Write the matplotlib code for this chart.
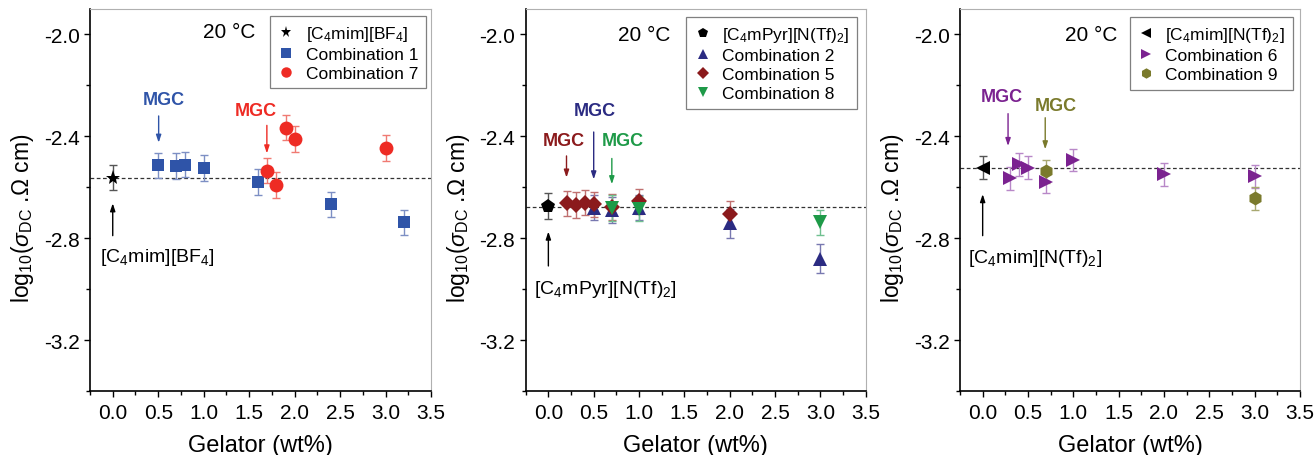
import matplotlib
matplotlib.use("Agg")
import matplotlib.pyplot as plt
from matplotlib.ticker import MultipleLocator

plt.rcParams['font.family'] = ['Liberation Sans', 'DejaVu Sans']
plt.rcParams['mathtext.fontset'] = 'custom'
plt.rcParams['mathtext.rm'] = 'Liberation Sans'
plt.rcParams['mathtext.it'] = 'Liberation Sans:italic'
plt.rcParams['mathtext.bf'] = 'Liberation Sans:bold'
plt.rcParams['axes.unicode_minus'] = False

# ---------------- data ----------------
# Panel 1
p1_il_x = [0.0]
p1_il_y = [-2.562]
p1_il_err = [0.05]
c1_x = [0.5, 0.7, 0.8, 1.0, 1.6, 2.4, 3.2]
c1_y = [-2.514, -2.516, -2.511, -2.524, -2.58, -2.667, -2.738]
c1_err = [0.05, 0.05, 0.05, 0.05, 0.05, 0.05, 0.05]
c7_x = [1.7, 1.8, 1.9, 2.0, 3.0]
c7_y = [-2.535, -2.592, -2.366, -2.41, -2.446]
c7_err = [0.05, 0.05, 0.05, 0.05, 0.05]

# Panel 2
p2_il_x = [0.0]
p2_il_y = [-2.673]
p2_il_err = [0.05]
c2_x = [0.5, 0.7, 1.0, 2.0, 3.0]
c2_y = [-2.68, -2.689, -2.68, -2.742, -2.88]
c2_err = [0.05, 0.05, 0.05, 0.057, 0.057]
c5_x = [0.2, 0.3, 0.4, 0.5, 0.7, 1.0, 2.0]
c5_y = [-2.663, -2.67, -2.66, -2.667, -2.677, -2.655, -2.705]
c5_err = [0.05, 0.05, 0.05, 0.05, 0.05, 0.05, 0.05]
c8_x = [0.7, 1.0, 3.0]
c8_y = [-2.682, -2.684, -2.738]
c8_err = [0.05, 0.05, 0.05]

# Panel 3
p3_il_x = [0.0]
p3_il_y = [-2.523]
p3_il_err = [0.045]
c6_x = [0.3, 0.4, 0.5, 0.7, 1.0, 2.0, 3.0]
c6_y = [-2.565, -2.51, -2.523, -2.579, -2.493, -2.549, -2.556]
c6_err = [0.045, 0.045, 0.045, 0.045, 0.045, 0.045, 0.045]
c9_x = [0.7, 3.0]
c9_y = [-2.537, -2.643]
c9_err = [0.045, 0.045]

il_labels = [r'[C$_4$mim][BF$_4$]', r'[C$_4$mPyr][N(Tf)$_2$]', r'[C$_4$mim][N(Tf)$_2$]']

# ---------------- figure ----------------
fig = plt.figure(figsize=(13.15, 4.56), dpi=100)
W, H = 1315.0, 456.0
ax_lefts = [90, 525.7, 960]
ax_widths = [341, 340, 340]
axes = []
for l, w in zip(ax_lefts, ax_widths):
    axes.append(fig.add_axes([l / W, 1 - 392 / H, w / W, 382 / H]))


def style(ax):
    ax.set_xlim(-0.25, 3.5)
    ax.set_ylim(-3.4, -1.9)
    ax.xaxis.set_major_locator(MultipleLocator(0.5))
    ax.xaxis.set_minor_locator(MultipleLocator(0.25))
    ax.yaxis.set_major_locator(MultipleLocator(0.4))
    ax.yaxis.set_minor_locator(MultipleLocator(0.2))
    ax.tick_params(which='both', direction='out', width=1.0, labelsize=15)
    ax.tick_params(which='major', length=4)
    ax.tick_params(which='minor', length=3)
    ax.tick_params(axis='x', pad=5)
    for s in ['top', 'right']:
        ax.spines[s].set_color('#b0b0b0')
        ax.spines[s].set_linewidth(0.8)
    for s in ['left', 'bottom']:
        ax.spines[s].set_linewidth(1.2)
    ax.set_xlabel('Gelator (wt%)', fontsize=17, labelpad=8)
    ax.set_ylabel(r'log$_{10}$($\sigma_{\mathrm{DC}}$ .Ω cm)', fontsize=16.5, labelpad=6)
    ax.yaxis.set_label_coords(-0.158, 0.455)


def series(ax, x, y, e, marker, color, ecolor, ms, label):
    ax.errorbar(x, y, yerr=e, fmt='none', ecolor=ecolor, elinewidth=1.0,
                capsize=3, capthick=1.0, zorder=2)
    ax.plot(x, y, linestyle='none', marker=marker, color=color, markersize=ms,
            markeredgewidth=0, label=label, zorder=3)


def arrow(ax, x, y0, y1, color, text=None, tx=None, ty=None, bold=False, fs=13):
    ax.annotate('', xy=(x, y1), xytext=(x, y0),
                arrowprops=dict(arrowstyle='-|>,head_length=0.45,head_width=0.15',
                                color=color, lw=1.0, shrinkA=0, shrinkB=0))
    if text is not None:
        ax.text(tx, ty, text, color=color, ha='center', va='center', fontsize=fs,
                fontweight='bold' if bold else 'normal')


def legend(ax, anchor):
    lg = ax.legend(loc='upper right', bbox_to_anchor=anchor, borderaxespad=0,
                   fontsize=12.5, frameon=True, fancybox=False, edgecolor='#606060',
                   handlelength=1.0, handletextpad=0.6, labelspacing=0.22,
                   borderpad=0.45, markerscale=0.75, numpoints=1)
    lg.get_frame().set_linewidth(0.9)


# ---- Panel 1 ----
ax = axes[0]
style(ax)
ax.axhline(p1_il_y[0], color='#333333', lw=0.9, ls=(0, (3, 2)), zorder=1)
series(ax, p1_il_x, p1_il_y, p1_il_err, '*', 'black', '#555555', 11, il_labels[0])
series(ax, c1_x, c1_y, c1_err, 's', '#2f54a8', '#7d8fc4', 9, 'Combination 1')
series(ax, c7_x, c7_y, c7_err, 'o', '#ee2b24', '#f07a72', 10, 'Combination 7')
arrow(ax, 0.505, -2.32, -2.425, '#2f54a8', 'MGC', 0.56, -2.255, True)
arrow(ax, 1.695, -2.357, -2.467, '#ee2b24', 'MGC', 1.57, -2.30, True)
arrow(ax, 0.0, -2.79, -2.663, 'black', il_labels[0], 0.49, -2.87, False, 14)
ax.text(1.28, -1.99, '20 °C', ha='center', va='center', fontsize=15)
legend(ax, (0.985, 0.982))

# ---- Panel 2 ----
ax = axes[1]
style(ax)
ax.axhline(p2_il_y[0] - 0.004, color='#333333', lw=0.9, ls=(0, (3, 2)), zorder=1)
series(ax, p2_il_x, p2_il_y, p2_il_err, 'p', 'black', '#555555', 10, il_labels[1])
series(ax, c2_x, c2_y, c2_err, '^', '#2b2b82', '#7878b0', 10, 'Combination 2')
series(ax, c5_x, c5_y, c5_err, 'D', '#8b1a1c', '#c07070', 8.5, 'Combination 5')
series(ax, c8_x, c8_y, c8_err, 'v', '#1e9a48', '#70c090', 10, 'Combination 8')
arrow(ax, 0.2, -2.477, -2.562, '#8b1a1c', 'MGC', 0.17, -2.418, True)
arrow(ax, 0.5, -2.383, -2.569, '#2b2b82', 'MGC', 0.51, -2.298, True)
arrow(ax, 0.7, -2.487, -2.588, '#1e9a48', 'MGC', 0.82, -2.418, True)
arrow(ax, 0.0, -2.909, -2.774, 'black', il_labels[1], 0.63, -2.997, False, 14)
ax.text(1.06, -2.0, '20 °C', ha='center', va='center', fontsize=15)
legend(ax, (0.975, 0.978))

# ---- Panel 3 ----
ax = axes[2]
style(ax)
ax.axhline(p3_il_y[0], color='#333333', lw=0.9, ls=(0, (3, 2)), zorder=1)
series(ax, p3_il_x, p3_il_y, p3_il_err, '<', 'black', '#555555', 10, il_labels[2])
series(ax, c6_x, c6_y, c6_err, '>', '#7b2290', '#b888c8', 10, 'Combination 6')
series(ax, c9_x, c9_y, c9_err, 'h', '#7a7a2c', '#a8a870', 10, 'Combination 9')
arrow(ax, 0.28, -2.311, -2.438, '#7b2290', 'MGC', 0.21, -2.244, True)
arrow(ax, 0.69, -2.327, -2.451, '#7a7a2c', 'MGC', 0.81, -2.278, True)
arrow(ax, 0.0, -2.79, -2.627, 'black', il_labels[2], 0.58, -2.876, False, 14)
ax.text(1.20, -2.0, '20 °C', ha='center', va='center', fontsize=15)
legend(ax, (0.979, 0.978))

fig.savefig('out.png', dpi=100)
